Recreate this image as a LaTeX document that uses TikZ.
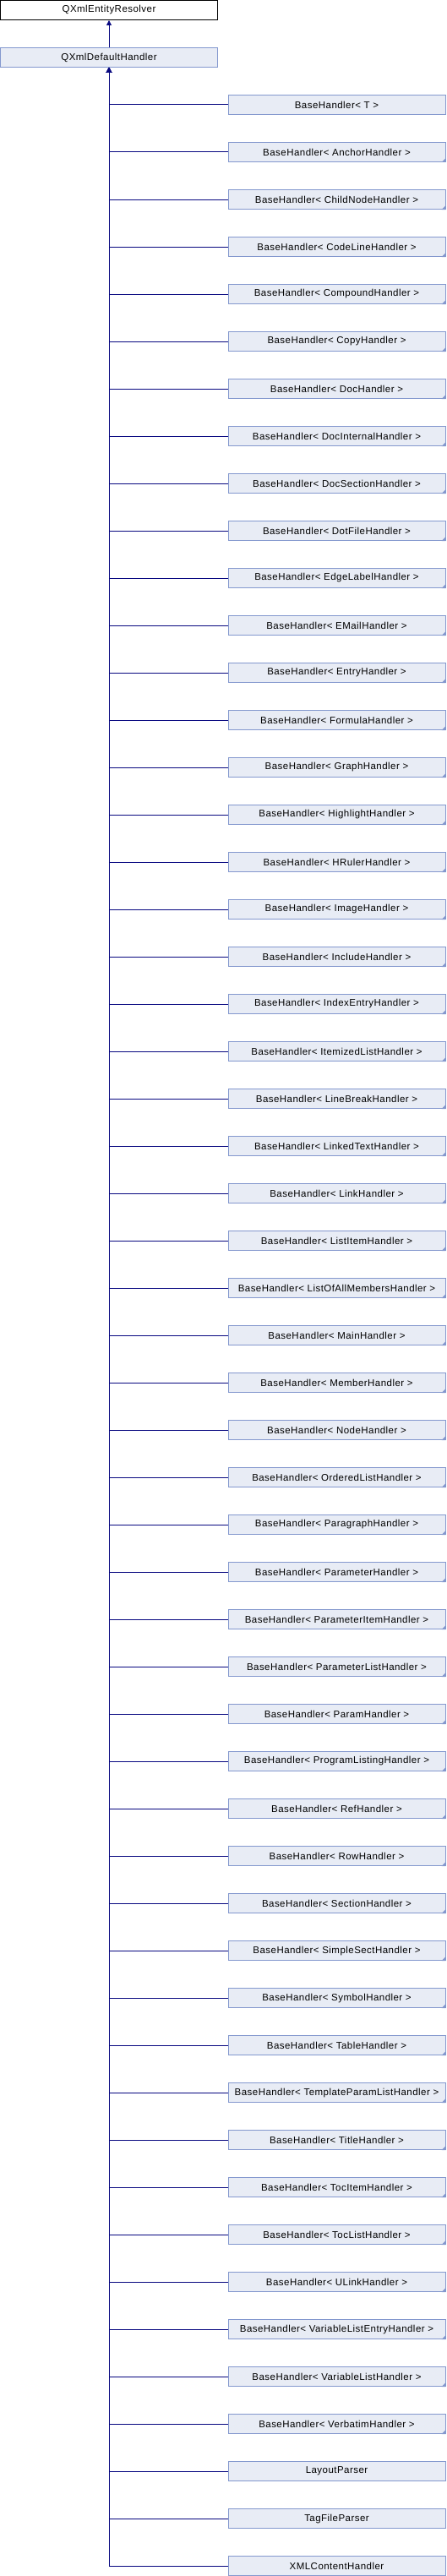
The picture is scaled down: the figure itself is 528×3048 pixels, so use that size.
\documentclass[tikz,border=0pt]{standalone}
\usepackage{fontspec}
\setmainfont{Liberation Sans}[LetterSpace=4]
\usetikzlibrary{arrows.meta}

\definecolor{boxfill}{RGB}{232,236,245}
\definecolor{boxline}{RGB}{132,152,206}
\definecolor{edgeblue}{RGB}{8,8,128}

\begin{document}
\begin{tikzpicture}[x=1pt,y=-1pt,
	cls/.style={draw=boxline,fill=boxfill,line width=1pt,minimum width=257pt,minimum height=23pt,inner sep=0pt,font=\fontsize{11.5}{14}\selectfont},
	root/.style={cls,draw=black,fill=white},
	edge/.style={draw=edgeblue,line width=1pt,-{Triangle[width=6pt,length=6pt]}}]
	\def\dy{56} % row distance
	\def\cx{398.5} % centre of the derived boxes
	\useasboundingbox (0,0) rectangle (528,3048);
	
	\node[root] (resolver) at (129,12) {QXmlEntityResolver};
	\node[cls] (dflt) at (129,12+\dy) {QXmlDefaultHandler};
	\draw[edge] (dflt.north) -- (resolver.south);
	\foreach \name [count=\i] in {T, AnchorHandler, ChildNodeHandler, CodeLineHandler, CompoundHandler, CopyHandler, DocHandler, DocInternalHandler, DocSectionHandler, DotFileHandler, EdgeLabelHandler, EMailHandler, EntryHandler, FormulaHandler, GraphHandler, HighlightHandler, HRulerHandler, ImageHandler, IncludeHandler, IndexEntryHandler, ItemizedListHandler, LineBreakHandler, LinkedTextHandler, LinkHandler, ListItemHandler, ListOfAllMembersHandler, MainHandler, MemberHandler, NodeHandler, OrderedListHandler, ParagraphHandler, ParameterHandler, ParameterItemHandler, ParameterListHandler, ParamHandler, ProgramListingHandler, RefHandler, RowHandler, SectionHandler, SimpleSectHandler, SymbolHandler, TableHandler, TemplateParamListHandler, TitleHandler, TocItemHandler, TocListHandler, ULinkHandler, VariableListEntryHandler, VariableListHandler, VerbatimHandler} {
		\node[cls] (h\i) at (\cx,12+\dy+\i*\dy) {BaseHandler< \name\ >};
		\ifnum\i>1 \fill[boxline] (h\i.south east) -- ++(-5,0) -- ++(5,-5) -- cycle; \fi
		\draw[edge] (h\i.west) -| (dflt.south);
	}
	\foreach \name [count=\i from 51] in {LayoutParser, TagFileParser, XMLContentHandler} {
		\node[cls] (h\i) at (\cx,12+\dy+\i*\dy) {\name};
		\draw[edge] (h\i.west) -| (dflt.south);
	}
\end{tikzpicture}
\end{document}
